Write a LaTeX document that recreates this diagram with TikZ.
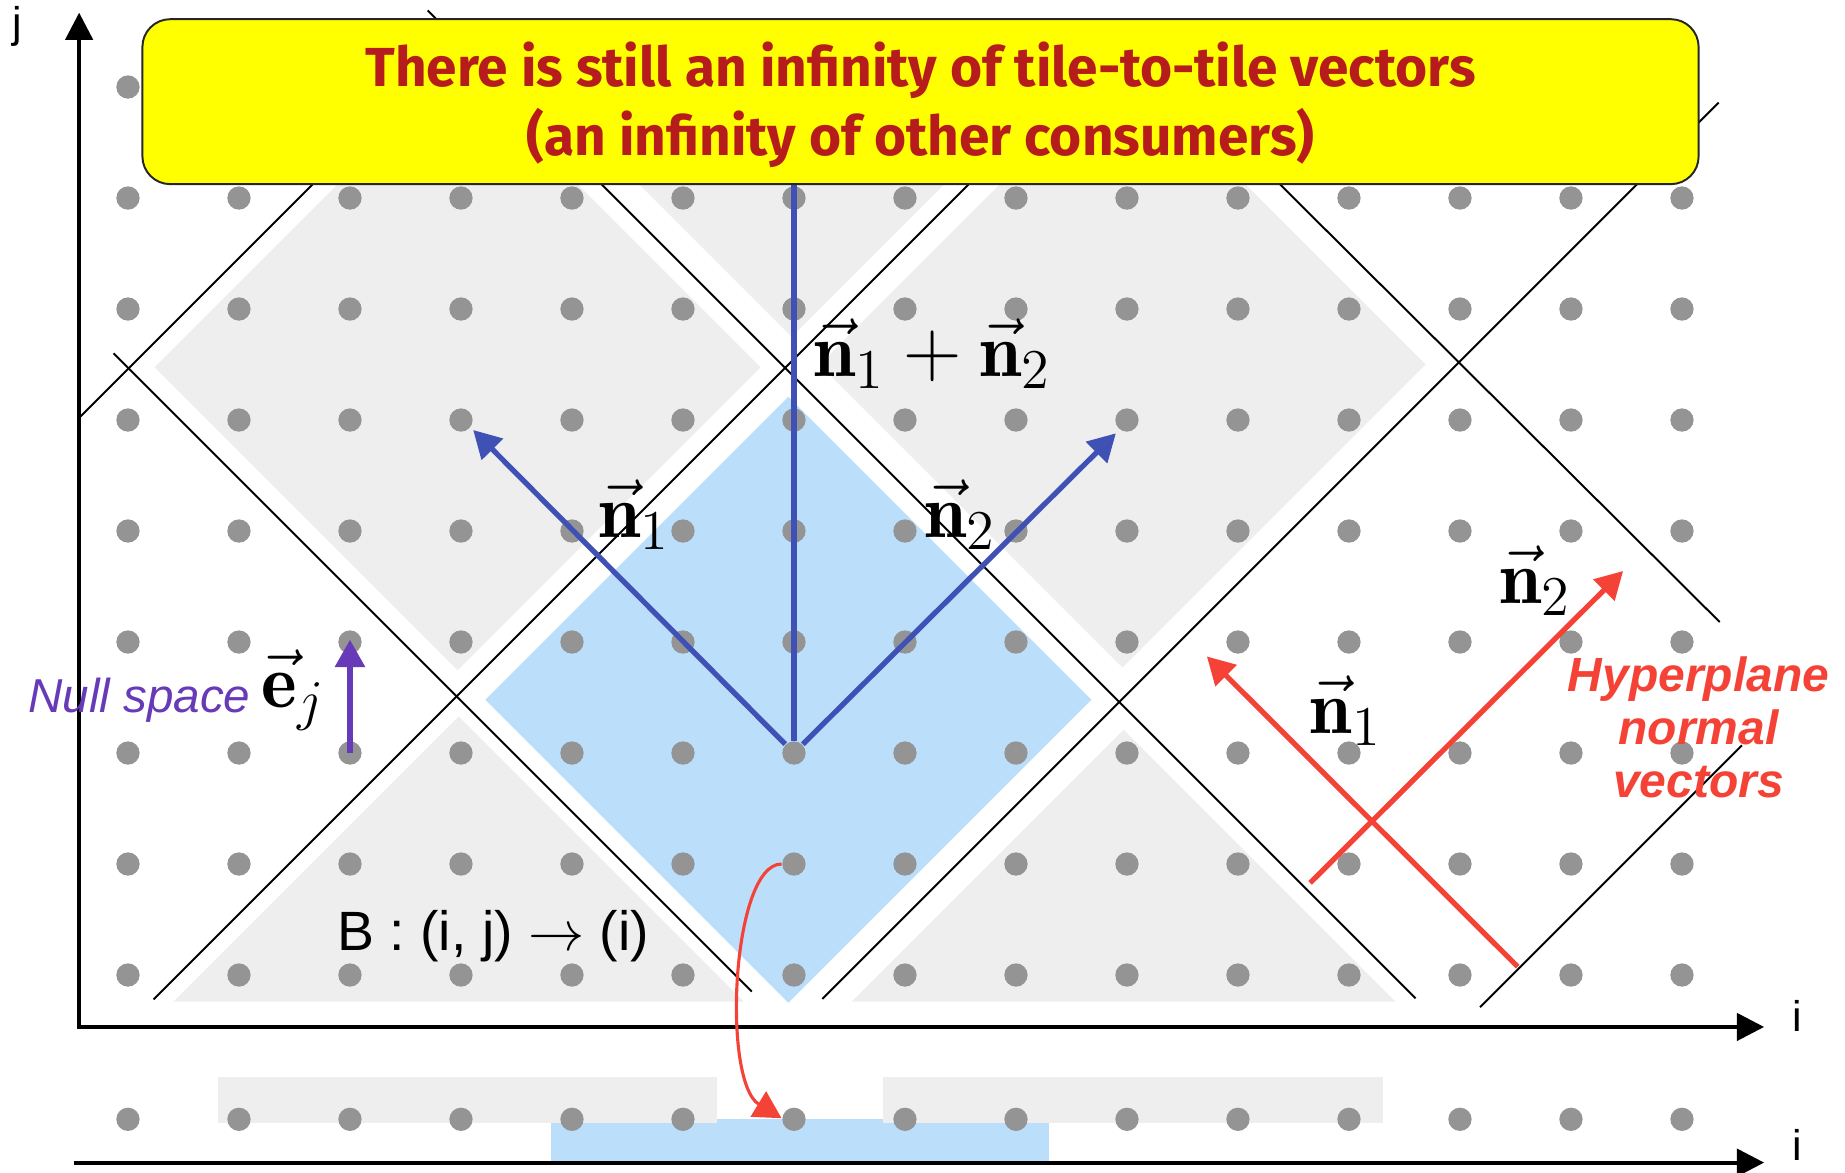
\documentclass[tikz,border=0pt]{standalone}
\usepackage{fontspec}
\usepackage{amsmath}
\usetikzlibrary{arrows.meta,positioning}
\newfontfamily\plainsans{Liberation Sans}
\newfontfamily\bannerfont{Fira Sans}
\DeclareMathSizes{19.5}{19.5}{15}{12}
\definecolor{Banner}{HTML}{FFFF00}
\definecolor{BannerText}{HTML}{B71C1C}
\definecolor{Indigo}{HTML}{3F51B5}
\definecolor{Tomato}{HTML}{F44336}
\definecolor{Violet}{HTML}{673AB7}
\definecolor{TileBlue}{HTML}{BBDEFB}
\definecolor{TileGray}{HTML}{EEEEEE}
\definecolor{DotGray}{HTML}{949494}

\begin{document}
\begin{tikzpicture}[
    dot/.style={circle,fill=DotGray,inner sep=0pt,minimum size=2.1mm},
    cut/.style={line width=0.5pt},
    tile/.style={fill=TileGray},
    own/.style={fill=TileBlue},
    ax/.style={line width=1pt},
    tip/.style={-{Triangle[length=7pt,width=7.5pt]}},
    vec/.style={tip,line width=1.35pt},
    m/.style={inner sep=0pt,anchor=base west,font=\fontsize{19.5}{23}\selectfont},
    lbl/.style={font=\plainsans\fontsize{11}{13}\selectfont},
    banner/.style={draw=black!85,line width=0.5pt,fill=Banner,rounded corners=2.5mm,minimum width=14.02cm,minimum height=1.486cm,inner sep=0pt,align=center,text=BannerText,font=\bannerfont\bfseries\fontsize{14.1}{17.6}\selectfont}]
    \useasboundingbox (-1.153,-1.775) rectangle (15.469,8.784);
    % tiles
    \fill[own] (5.95,-0.25) -- ++(2.73,2.73) -- ++(-2.73,2.73) -- ++(-2.73,-2.73) -- cycle;
    \foreach \cx/\cy in {2.97/5.475, 8.96/5.5}
      \fill[tile] (\cx,\cy-2.73) -- ++(2.73,2.73) -- ++(-2.73,2.73) -- ++(-2.73,-2.73) -- cycle;
    \fill[tile] (5.98,5.75) -- ++(2.2,2.2) -- ++(-4.4,0) -- cycle;
    \fill[tile] (0.41,-0.24) -- (2.98,2.33) -- (5.55,-0.24) -- cycle;
    \fill[tile] (6.52,-0.24) -- (8.97,2.21) -- (11.42,-0.24) -- cycle;
    \fill[own] (3.81,-1.69) rectangle (8.30,-1.30);
    \fill[tile] (0.81,-1.33) rectangle (5.31,-0.92);
    \fill[tile] (6.80,-1.33) rectangle (11.31,-0.92);
    % hyperplanes
    \draw[cut] (-0.13,5.60) -- (5.62,-0.15);
    \draw[cut] (2.70,8.69) -- (11.60,-0.21);
    \draw[cut] (10.0,7.5) -- (14.34,3.18);
    \draw[cut] (-0.43,5.03) -- (2.2,7.66);
    \draw[cut] (0.23,-0.22) -- (8.0,7.55);
    \draw[cut] (6.255,-0.215) -- (14.33,7.86);
    \draw[cut] (12.18,-0.29) -- (14.54,2.07);
    % iteration points
    \foreach \i in {0,...,14} {
      \foreach \j in {0,...,8}
        \node[dot] (d-\i-\j) at (\i,\j) {};
      \node[dot] (b-\i) at (\i,-1.3) {};
    }
    % axes
    \coordinate (jtip) at (-0.44,8.67);
    \coordinate (corner) at (-0.44,-0.468);
    \coordinate (itip) at (14.74,-0.468);
    \coordinate (bstart) at (-0.486,-1.69);
    \coordinate (btip) at (14.74,-1.69);
    \draw[ax,{Triangle[length=7pt,width=7pt]}-{Triangle[length=7pt,width=7pt]}] (jtip) -- (corner) -- (itip);
    \draw[ax,-{Triangle[length=7pt,width=7pt]}] (bstart) -- (btip);
    \node[lbl] (jlbl) at (-1.0,8.55) {j};
    \node[lbl] (ilbl) at (15.04,-0.37) {i};
    \node[lbl] (ilbl2) at (15.04,-1.535) {i};
    % vectors
    \coordinate (n1tip) at (3.11,4.91);
    \coordinate (n2tip) at (8.90,4.88);
    \coordinate (sumtop) at (6,7.6);
    \draw[vec,Indigo] (d-6-2) -- (n1tip);
    \draw[vec,Indigo] (d-6-2) -- (n2tip);
    \draw[line width=1.35pt,Indigo] (d-6-2) -- (sumtop);
    \coordinate (r1a) at (12.52,0.075);
    \coordinate (r1b) at (9.72,2.87);
    \coordinate (r2a) at (10.65,0.83);
    \coordinate (r2b) at (13.47,3.64);
    \draw[vec,Tomato] (r1a) -- (r1b);
    \draw[vec,Tomato] (r2a) -- (r2b);
    \coordinate (ejtip) at (2,3.02);
    \draw[vec,Violet,line width=1.4pt] (d-2-2.center) -- (ejtip);
    \draw[tip,Tomato,line width=0.8pt] (d-6-1.west) .. controls +(-0.45,0) and +(-0.54,0.33) .. (b-6.175);
    % labels
    \node[m] (n1lbl) at (4.23,3.94) {$\vec{\mathbf{n}}_1$};
    \node[m] (n2lbl) at (7.17,3.94) {$\vec{\mathbf{n}}_2$};
    \node[m] (sumlbl) at (6.17,5.39) {$\vec{\mathbf{n}}_1+\vec{\mathbf{n}}_2$};
    \node[m] (rn1lbl) at (10.64,2.18) {$\vec{\mathbf{n}}_1$};
    \node[m] (rn2lbl) at (12.35,3.35) {$\vec{\mathbf{n}}_2$};
    \node[m] (ejlbl) at (1.20,2.41) {$\vec{\mathbf{e}}_j$};
    \node[inner sep=0pt,anchor=base west,text=Violet,font=\plainsans\itshape\fontsize{12.2}{14}\selectfont] (nullsp) at (-0.905,2.365) {Null space};
    \node[inner sep=0pt,anchor=base west,font=\plainsans\fontsize{14.2}{16}\selectfont] (proj) at (1.88,0.225) {B : (i, j) $\rightarrow$ (i)};
    \node[inner sep=0pt,align=center,text=Tomato,font=\plainsans\bfseries\itshape\fontsize{12.3}{13.6}\selectfont] (hyp) at (14.15,2.23) {Hyperplane\\normal\\vectors};
    \node[banner] (title) at (7.14,7.868) {\rule{0pt}{13.2pt}There is still an infinity of tile-to-tile vectors\\(an infinity of other consumers)};
\end{tikzpicture}
\end{document}
